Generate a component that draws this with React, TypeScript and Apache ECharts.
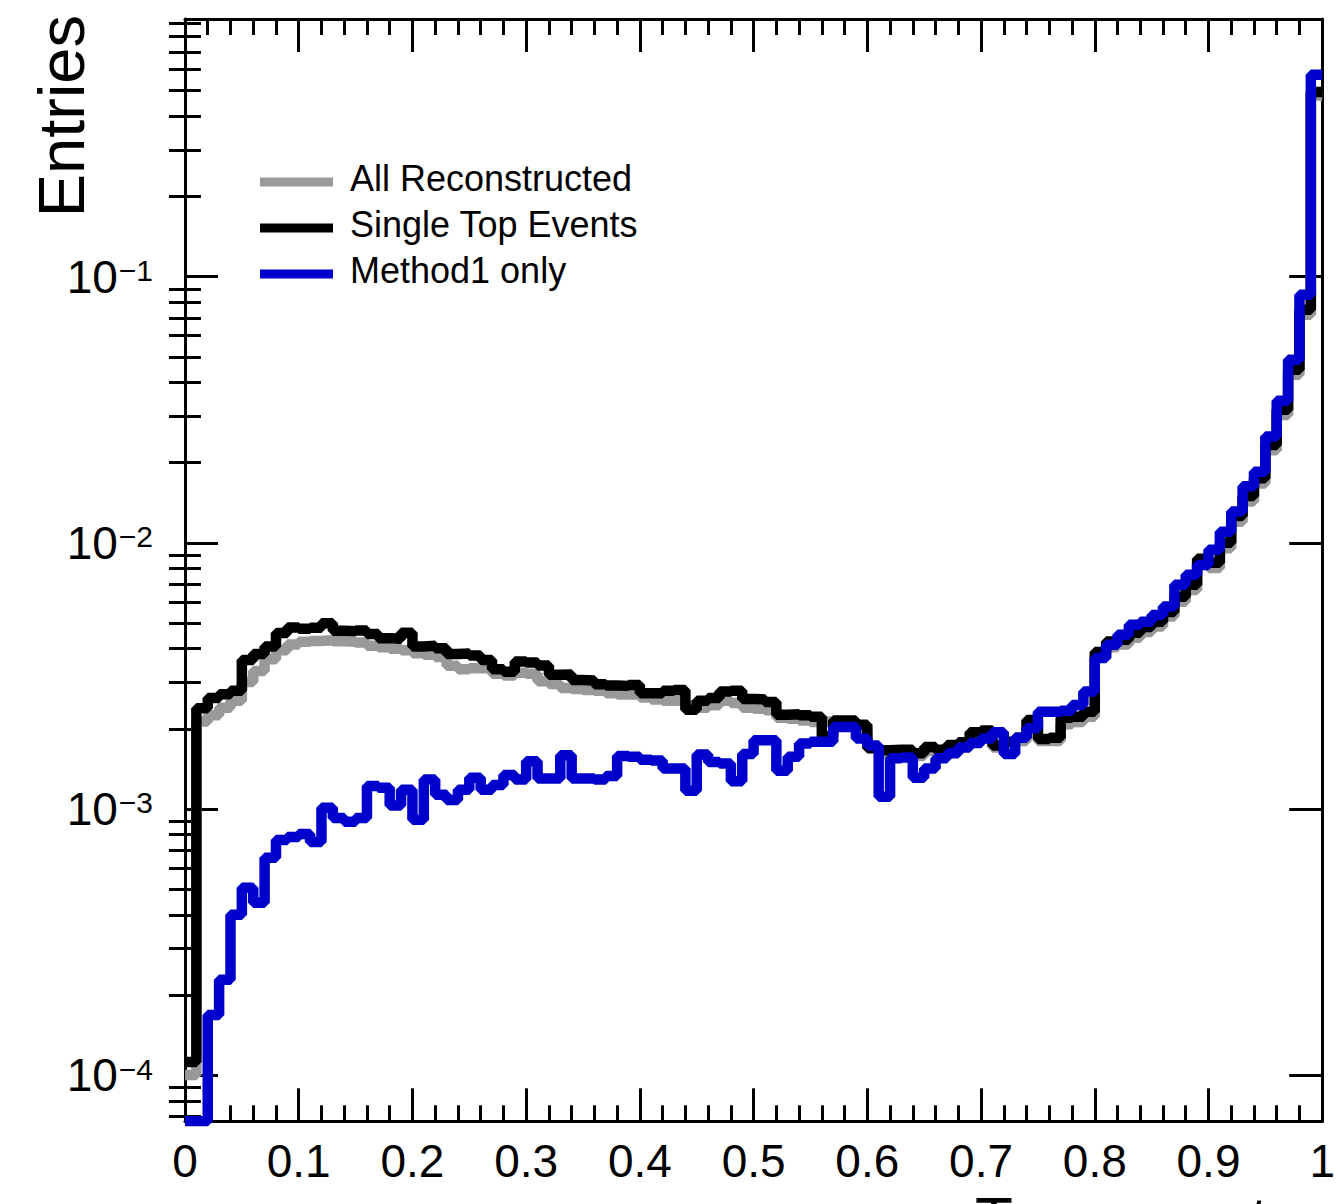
import React, { useEffect, useRef } from "react";
import * as echarts from "echarts";

// ---------------- data (100 bins of width 0.01, normalised entries) ----------------
const BIN_WIDTH = 0.01;

const seriesNames = ["All Reconstructed", "Single Top Events", "Method1 only"];
const seriesColors = ["#999999", "#000000", "#0000cc"];

const allReconstructed = [
  1.0e-4, 2.13e-3, 2.25e-3, 2.4e-3, 2.55e-3, 3.0e-3, 3.3e-3, 3.65e-3, 3.95e-3, 4.15e-3,
  4.25e-3, 4.28e-3, 4.3e-3, 4.27e-3, 4.25e-3, 4.22e-3, 4.1e-3, 4.05e-3, 4.0e-3, 3.95e-3,
  3.85e-3, 3.8e-3, 3.72e-3, 3.45e-3, 3.35e-3, 3.38e-3, 3.4e-3, 3.22e-3, 3.17e-3, 3.25e-3,
  3.22e-3, 3.02e-3, 2.95e-3, 2.85e-3, 2.82e-3, 2.8e-3, 2.78e-3, 2.72e-3, 2.69e-3, 2.7e-3,
  2.62e-3, 2.58e-3, 2.55e-3, 2.55e-3, 2.45e-3, 2.4e-3, 2.45e-3, 2.55e-3, 2.5e-3, 2.4e-3,
  2.38e-3, 2.35e-3, 2.2e-3, 2.18e-3, 2.15e-3, 2.12e-3, 2.13e-3, 2.08e-3, 2.05e-3, 1.98e-3,
  1.7e-3, 1.62e-3, 1.63e-3, 1.62e-3, 1.58e-3, 1.65e-3, 1.62e-3, 1.68e-3, 1.72e-3, 1.86e-3,
  1.9e-3, 1.7e-3, 1.72e-3, 1.8e-3, 2.05e-3, 1.8e-3, 1.8e-3, 2.08e-3, 2.12e-3, 2.22e-3,
  3.7e-3, 4.05e-3, 4.15e-3, 4.4e-3, 4.62e-3, 4.85e-3, 5.28e-3, 6.0e-3, 6.65e-3, 8.3e-3,
  8.05e-3, 9.55e-3, 1.2e-2, 1.43e-2, 1.67e-2, 2.23e-2, 3.02e-2, 4.28e-2, 7.2e-2, 0.48,
];

const singleTopEvents = [
  1.12e-4, 2.39e-3, 2.61e-3, 2.7e-3, 2.78e-3, 3.63e-3, 3.82e-3, 4.08e-3, 4.58e-3, 4.81e-3,
  4.75e-3, 4.8e-3, 4.99e-3, 4.67e-3, 4.65e-3, 4.68e-3, 4.54e-3, 4.38e-3, 4.36e-3, 4.59e-3,
  4.08e-3, 4.1e-3, 4.02e-3, 3.82e-3, 3.84e-3, 3.77e-3, 3.63e-3, 3.35e-3, 3.28e-3, 3.58e-3,
  3.55e-3, 3.46e-3, 3.19e-3, 3.2e-3, 3.05e-3, 3.04e-3, 2.94e-3, 2.91e-3, 2.9e-3, 2.92e-3,
  2.72e-3, 2.72e-3, 2.78e-3, 2.8e-3, 2.36e-3, 2.55e-3, 2.61e-3, 2.76e-3, 2.78e-3, 2.59e-3,
  2.58e-3, 2.52e-3, 2.26e-3, 2.27e-3, 2.25e-3, 2.22e-3, 1.87e-3, 2.15e-3, 2.15e-3, 2.07e-3,
  1.69e-3, 1.66e-3, 1.67e-3, 1.67e-3, 1.62e-3, 1.71e-3, 1.67e-3, 1.74e-3, 1.78e-3, 1.94e-3,
  1.97e-3, 1.73e-3, 1.79e-3, 1.85e-3, 2.16e-3, 1.83e-3, 1.85e-3, 2.2e-3, 2.22e-3, 2.32e-3,
  3.89e-3, 4.26e-3, 4.32e-3, 4.59e-3, 4.83e-3, 5.05e-3, 5.5e-3, 6.27e-3, 6.95e-3, 8.71e-3,
  8.41e-3, 1.0e-2, 1.26e-2, 1.5e-2, 1.75e-2, 2.33e-2, 3.16e-2, 4.47e-2, 7.51e-2, 0.495,
];

const method1Only = [
  0, 0, 1.68e-4, 2.28e-4, 4.0e-4, 5.05e-4, 4.44e-4, 6.55e-4, 7.64e-4, 7.85e-4,
  8.05e-4, 7.51e-4, 1.01e-3, 9.25e-4, 8.94e-4, 9.25e-4, 1.22e-3, 1.2e-3, 1.03e-3, 1.18e-3,
  9.1e-4, 1.29e-3, 1.13e-3, 1.08e-3, 1.18e-3, 1.31e-3, 1.18e-3, 1.23e-3, 1.34e-3, 1.29e-3,
  1.51e-3, 1.3e-3, 1.3e-3, 1.59e-3, 1.3e-3, 1.3e-3, 1.29e-3, 1.33e-3, 1.58e-3, 1.57e-3,
  1.53e-3, 1.52e-3, 1.42e-3, 1.42e-3, 1.17e-3, 1.6e-3, 1.5e-3, 1.48e-3, 1.27e-3, 1.61e-3,
  1.81e-3, 1.81e-3, 1.39e-3, 1.57e-3, 1.76e-3, 1.79e-3, 1.79e-3, 2.03e-3, 2.03e-3, 1.84e-3,
  1.73e-3, 1.11e-3, 1.55e-3, 1.56e-3, 1.31e-3, 1.42e-3, 1.55e-3, 1.62e-3, 1.7e-3, 1.77e-3,
  1.84e-3, 1.94e-3, 1.61e-3, 1.85e-3, 2.01e-3, 2.32e-3, 2.32e-3, 2.34e-3, 2.46e-3, 2.76e-3,
  3.69e-3, 4.14e-3, 4.51e-3, 4.92e-3, 5.05e-3, 5.36e-3, 5.76e-3, 6.95e-3, 7.58e-3, 8.26e-3,
  9.42e-3, 1.1e-2, 1.31e-2, 1.63e-2, 1.85e-2, 2.51e-2, 3.42e-2, 4.88e-2, 8.55e-2, 0.574,
];

// ---------------- axes ----------------
const X_MIN = 0;
const X_MAX = 1;
const X_INTERVAL = 0.1;
const Y_MIN = 6.7e-5;
const Y_MAX = 0.93;
const yMajorTicks = [1e-4, 1e-3, 1e-2, 1e-1];
const yMinorMantissas = [2, 3, 4, 5, 6, 7, 8, 9];
const yMinorDecades = [1e-5, 1e-4, 1e-3, 1e-2, 1e-1];
const yTitle = "Entries";
const xTitle = "Tagger output";

const FONT = '"Liberation Sans", Arial, Helvetica, sans-serif';

const yMinorTicks: number[] = [];
yMinorDecades.forEach((d) =>
  yMinorMantissas.forEach((m) => {
    const v = Number((m * d).toPrecision(3));
    if (v >= Y_MIN && v <= Y_MAX) yMinorTicks.push(v);
  })
);

function histPoints(values: number[]) {
  // ROOT draws empty bins at the bottom of the log frame
  const pts = values.map((v, i) => [Number((i * BIN_WIDTH).toFixed(4)), v > 0 ? v : Y_MIN]);
  const last = values[values.length - 1];
  pts.push([Number((values.length * BIN_WIDTH).toFixed(4)), last > 0 ? last : Y_MIN]);
  return pts;
}

const BLACK_LINE = { color: "#000", width: 3 };

export default function App() {
  const ref = useRef<HTMLDivElement>(null);

  useEffect(() => {
    if (!ref.current) return;
    const chart = echarts.init(ref.current, undefined, { renderer: "svg" });

    const xAxisCommon = {
      type: "value",
      min: X_MIN,
      max: X_MAX,
      interval: X_INTERVAL,
      splitLine: { show: false },
      axisLine: { show: true, onZero: false, lineStyle: BLACK_LINE },
      axisTick: { show: true, inside: true, length: 33, lineStyle: BLACK_LINE },
      minorTick: { show: true, splitNumber: 5, length: 16, lineStyle: BLACK_LINE },
    };

    const yAxisCommon = {
      type: "log",
      logBase: 10,
      min: Y_MIN,
      max: Y_MAX,
      splitLine: { show: false },
      minorTick: { show: false },
      minorSplitLine: { show: false },
    };

    const yMajor = (position: string, withLabels: boolean) => ({
      ...yAxisCommon,
      position,
      axisLine: { show: true, onZero: false, lineStyle: BLACK_LINE },
      axisTick: { show: true, inside: true, length: 33, lineStyle: BLACK_LINE, customValues: yMajorTicks },
      axisLabel: withLabels
        ? {
            show: true,
            margin: 32,
            customValues: yMajorTicks,
            formatter: (v: number) => {
              const e = Math.round(Math.log10(v));
              return `{b|10}{sup|\u2212${Math.abs(e)}}`;
            },
            rich: {
              b: { fontSize: 46, fontFamily: FONT, color: "#000", lineHeight: 46, padding: [11, 0, 0, 0], verticalAlign: "bottom" },
              sup: { fontSize: 30, fontFamily: FONT, color: "#000", lineHeight: 30, padding: [2, 0, 0, 1], verticalAlign: "top" },
            },
          }
        : { show: false },
    });

    const yMinor = (position: string) => ({
      ...yAxisCommon,
      position,
      axisLine: { show: false },
      axisLabel: { show: false },
      axisTick: { show: true, inside: true, length: 16, lineStyle: BLACK_LINE, customValues: yMinorTicks },
    });

    const seriesValues = [allReconstructed, singleTopEvents, method1Only];

    chart.setOption({
      animation: false,
      backgroundColor: "#fff",
      textStyle: { fontFamily: FONT },
      grid: { left: 185, top: 19, right: 14.5, bottom: 82.7, containLabel: false },
      xAxis: [
        {
          ...xAxisCommon,
          position: "bottom",
          axisLabel: {
            show: true,
            margin: 17,
            fontSize: 46,
            fontFamily: FONT,
            color: "#000",
            showMinLabel: true,
            showMaxLabel: true,
            formatter: (v: number) => String(Number(v.toFixed(1))),
          },
        },
        { ...xAxisCommon, position: "top", axisLabel: { show: false } },
      ],
      yAxis: [yMajor("left", true), yMinor("left"), yMajor("right", false), yMinor("right")],
      legend: {
        data: seriesNames,
        orient: "vertical",
        left: 260,
        top: 160,
        padding: 0,
        itemGap: 2,
        itemWidth: 73,
        itemHeight: 9,
        icon: "rect",
        selectedMode: false,
        formatter: (name: string) => `{t|${name}}`,
        textStyle: {
          fontSize: 36,
          fontFamily: FONT,
          color: "#000",
          padding: [0, 0, 0, 12],
          rich: { t: { fontSize: 36, fontFamily: FONT, color: "#000", lineHeight: 36, padding: [0, 0, 8, 0] } },
        },
      },
      series: seriesValues.map((vals, i) => ({
        type: "line",
        name: seriesNames[i],
        data: histPoints(vals),
        step: "end",
        xAxisIndex: 0,
        yAxisIndex: 0,
        symbol: "none",
        showSymbol: false,
        clip: true,
        z: 2 + i,
        color: seriesColors[i],
        itemStyle: { color: seriesColors[i] },
        lineStyle: { color: seriesColors[i], width: 10.5, join: "bevel", cap: "butt" },
      })),
      graphic: [
        {
          type: "text",
          x: 61,
          y: 15,
          rotation: Math.PI / 2,
          style: { text: yTitle, fontSize: 65, fontFamily: FONT, fill: "#000", align: "right", verticalAlign: "middle" },
        },
        {
          type: "text",
          x: 975,
          y: 1218,
          style: { text: xTitle, fontSize: 62, fontFamily: FONT, fill: "#000", align: "left", verticalAlign: "middle" },
        },
      ],
    });

    return () => chart.dispose();
  }, []);

  return (
    <div
      ref={ref}
      style={{ position: "absolute", left: 0, top: 0, width: 1338, height: 1204, background: "#fff" }}
    />
  );
}
